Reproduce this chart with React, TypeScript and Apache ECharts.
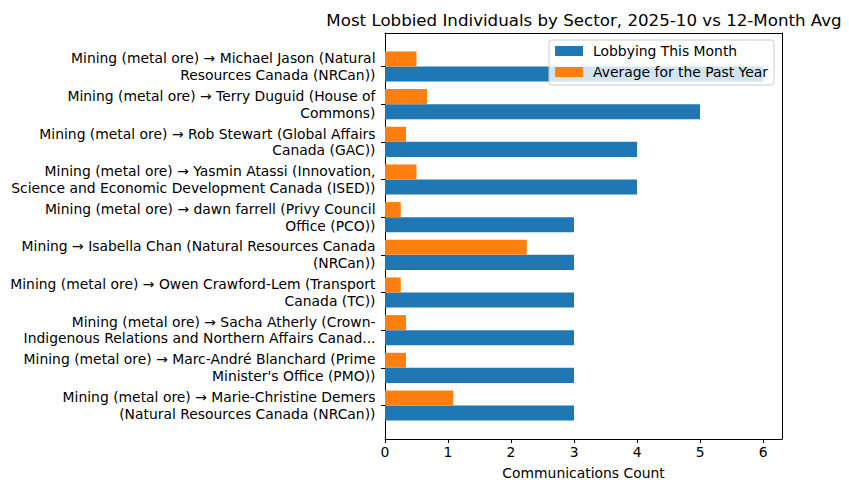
import React, { useEffect, useRef } from "react";
import * as echarts from "echarts";

const categories: string[] = [
  "Mining (metal ore) → Michael Jason (Natural\nResources Canada (NRCan))",
  "Mining (metal ore) → Terry Duguid (House of\nCommons)",
  "Mining (metal ore) → Rob Stewart (Global Affairs\nCanada (GAC))",
  "Mining (metal ore) → Yasmin Atassi (Innovation,\nScience and Economic Development Canada (ISED))",
  "Mining (metal ore) → dawn farrell (Privy Council\nOffice (PCO))",
  "Mining → Isabella Chan (Natural Resources Canada\n(NRCan))",
  "Mining (metal ore) → Owen Crawford-Lem (Transport\nCanada (TC))",
  "Mining (metal ore) → Sacha Atherly (Crown-\nIndigenous Relations and Northern Affairs Canad...",
  "Mining (metal ore) → Marc-André Blanchard (Prime\nMinister's Office (PMO))",
  "Mining (metal ore) → Marie-Christine Demers\n(Natural Resources Canada (NRCan))",
];
const thisMonth: number[] = [6, 5, 4, 4, 3, 3, 3, 3, 3, 3];
const pastYearAvg: number[] = [0.5, 0.667, 0.333, 0.5, 0.25, 2.25, 0.25, 0.333, 0.333, 1.083];
const xTicks: number[] = [0, 1, 2, 3, 4, 5, 6];

const FONT = "DejaVu Sans";
const FS = 13.9;
const BLUE = "#1f77b4";
const ORANGE = "#ff7f0e";
const BAR_H = 0.4;

function makeRender(color: string) {
  return (params: any, api: any) => {
    const v = api.value(0);
    const y = api.value(1);
    const s = api.coord([0, y]);
    const e = api.coord([v, y]);
    const h = api.size([0, BAR_H])[1];
    return {
      type: "rect",
      shape: { x: s[0], y: s[1] - h / 2, width: e[0] - s[0], height: h },
      style: { fill: color },
    };
  };
}

export default function App() {
  const ref = useRef<HTMLDivElement>(null);
  useEffect(() => {
    if (!ref.current) return;
    const chart = echarts.init(ref.current, null, { renderer: "svg" });
    const frameAxis = {
      axisLine: { show: true, onZero: false, lineStyle: { color: "#000", width: 1 } },
      axisTick: { show: false },
      axisLabel: { show: false },
      splitLine: { show: false },
    };
    chart.setOption({
      animation: false,
      textStyle: { fontFamily: FONT },
      title: {
        text: "Most Lobbied Individuals by Sector, 2025-10 vs 12-Month Avg",
        left: 579,
        top: 7,
        textAlign: "center",
        textStyle: { fontFamily: FONT, fontSize: 16.67, fontWeight: "normal", color: "#000" },
      },
      legend: {
        orient: "vertical",
        right: 75,
        top: 40,
        itemWidth: 28,
        itemHeight: 10,
        itemGap: 7,
        padding: [4, 6, 6, 6],
        backgroundColor: "rgba(255,255,255,0.8)",
        borderColor: "#cccccc",
        borderWidth: 1,
        borderRadius: 3,
        icon: "rect",
        data: ["Lobbying This Month", "Average for the Past Year"],
        textStyle: { fontFamily: FONT, fontSize: FS, color: "#000", padding: [0, 0, 0, 5] },
      },
      grid: {
        left: 385,
        top: 33,
        right: 67,
        bottom: 52,
      },
      xAxis: [
        {
          type: "value",
          min: 0,
          max: 6.3,
          name: "Communications Count",
          nameLocation: "middle",
          nameGap: 27,
          nameTextStyle: { fontFamily: FONT, fontSize: FS, color: "#000" },
          axisLine: { show: true, onZero: false, lineStyle: { color: "#000", width: 1 } },
          axisTick: { show: true, length: 4, lineStyle: { color: "#000" }, customValues: xTicks },
          axisLabel: { fontFamily: FONT, fontSize: FS, color: "#000", margin: 6, customValues: xTicks },
          splitLine: { show: false },
        },
        { type: "value", position: "top", min: 0, max: 6.3, ...frameAxis },
      ],
      yAxis: [
        {
          type: "value",
          min: -0.89,
          max: 9.89,
          inverse: true,
          axisLine: { show: true, onZero: false, lineStyle: { color: "#000", width: 1 } },
          axisTick: {
            show: true,
            length: 4,
            lineStyle: { color: "#000" },
            customValues: categories.map((_, i) => i),
          },
          axisLabel: {
            fontFamily: FONT,
            fontSize: FS,
            color: "#000",
            lineHeight: 16.7,
            margin: 9.5,
            align: "right",
            customValues: categories.map((_, i) => i),
            formatter: (v: number) => categories[Math.round(v)] ?? "",
          },
          splitLine: { show: false },
        },
        { type: "value", position: "right", min: -0.89, max: 9.89, inverse: true, ...frameAxis },
      ],
      series: [
        {
          name: "Lobbying This Month",
          type: "custom",
          itemStyle: { color: BLUE },
          encode: { x: 0, y: 1 },
          data: thisMonth.map((v, i) => [v, i + 0.2]),
          renderItem: makeRender(BLUE),
        },
        {
          name: "Average for the Past Year",
          type: "custom",
          itemStyle: { color: ORANGE },
          encode: { x: 0, y: 1 },
          data: pastYearAvg.map((v, i) => [v, i - 0.2]),
          renderItem: makeRender(ORANGE),
        },
      ],
    });
    return () => chart.dispose();
  }, []);
  return (
    <div
      ref={ref}
      style={{ position: "fixed", left: 0, top: 0, width: 849, height: 491, background: "#fff" }}
    />
  );
}
